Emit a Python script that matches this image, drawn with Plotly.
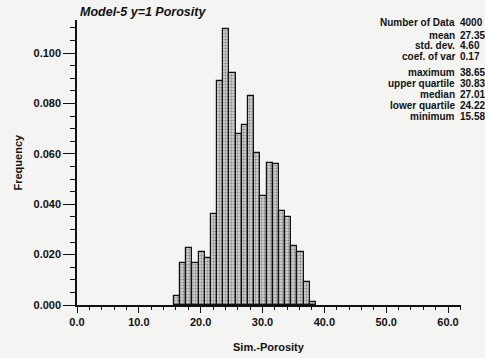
import plotly.graph_objects as go

# ---- data ----
bin_start = 15.65
bin_width = 1.0
frequency = [0.0036, 0.0165, 0.0225, 0.0165, 0.0209, 0.0188, 0.0360, 0.0890,
             0.1095, 0.0920, 0.0679, 0.0714, 0.0830, 0.0602, 0.0434, 0.0562,
             0.0558, 0.0373, 0.0348, 0.0235, 0.0209, 0.0091, 0.0013]
bin_centers = [bin_start + bin_width * (i + 0.5) for i in range(len(frequency))]

stat_labels = ["Number of Data", "mean", "std. dev.", "coef. of var",
               "maximum", "upper quartile", "median", "lower quartile", "minimum"]
stat_values = ["4000", "27.35", "4.60", "0.17",
               "38.65", "30.83", "27.01", "24.22", "15.58"]

x_tickvals = [0, 10, 20, 30, 40, 50, 60]
x_ticktext = ["0.0", "10.0", "20.0", "30.0", "40.0", "50.0", "60.0"]
y_tickvals = [0.0, 0.02, 0.04, 0.06, 0.08, 0.10]
y_ticktext = ["0.000", "0.020", "0.040", "0.060", "0.080", "0.100"]

title_text = "Model-5 y=1 Porosity"
x_title = "Sim.-Porosity"
y_title = "Frequency"

# ---- layout geometry (pixels) ----
W, H = 485, 358
L, R, T, B = 77, 24, 20, 53
PW, PH = W - L - R, H - T - B
FONT = "Liberation Sans, Arial, sans-serif"
BG = "#f4f4f2"
INK = "#111111"

fig = go.Figure()
fig.add_trace(go.Bar(
    x=bin_centers, y=frequency, width=bin_width,
    marker=dict(color="#c8c8c8",
                line=dict(color=INK, width=1.2),
                pattern=dict(shape=".", size=3, solidity=0.5,
                             fgcolor="#444444", bgcolor="#dedede")),
    showlegend=False, hoverinfo="skip"))

def px_to_paper_x(px):
    return (px - L) / PW

def px_to_paper_y(py):
    return (H - B - py) / PH

annotations = []
annotations.append(dict(text="<b><i>" + title_text + "</i></b>", xref="paper", yref="paper",
                        x=px_to_paper_x(78), y=px_to_paper_y(12), xanchor="left", yanchor="middle",
                        showarrow=False, font=dict(family=FONT, size=12.5, color=INK)))
row_y = [22, 35, 46, 57, 72, 83, 94, 105, 116]
for lab, val, yy in zip(stat_labels, stat_values, row_y):
    annotations.append(dict(text="<b>" + lab + "</b>", xref="paper", yref="paper",
                            x=px_to_paper_x(456), y=px_to_paper_y(yy), xanchor="right",
                            yanchor="middle", showarrow=False, borderpad=0,
                            font=dict(family=FONT, size=10, color=INK)))
    annotations.append(dict(text="<b>" + val + "</b>", xref="paper", yref="paper",
                            x=px_to_paper_x(459), y=px_to_paper_y(yy), xanchor="left",
                            yanchor="middle", showarrow=False, borderpad=0,
                            font=dict(family=FONT, size=10, color=INK)))
annotations.append(dict(text="<b>" + x_title + "</b>", xref="paper", yref="paper",
                        x=0.5, y=px_to_paper_y(347), xanchor="center", yanchor="middle",
                        showarrow=False, font=dict(family=FONT, size=11, color=INK)))
annotations.append(dict(text="<b>" + y_title + "</b>", xref="paper", yref="paper",
                        x=px_to_paper_x(17), y=0.5, xanchor="center", yanchor="middle",
                        textangle=-90, showarrow=False,
                        font=dict(family=FONT, size=11, color=INK)))

fig.update_layout(
    width=W, height=H, margin=dict(l=L, r=R, t=T, b=B),
    paper_bgcolor=BG, plot_bgcolor=BG,
    bargap=0, annotations=annotations,
    font=dict(family=FONT, size=11, color=INK),
    xaxis=dict(range=[0, 62.1], showgrid=False, zeroline=False,
               showline=True, linecolor=INK, linewidth=1.5,
               tickmode="array", tickvals=x_tickvals, ticktext=["<b>" + t + "</b>" for t in x_ticktext],
               ticks="outside", ticklen=6, tickwidth=1.3, tickcolor=INK,
               minor=dict(dtick=2, ticks="outside", ticklen=3, tickwidth=1.2, tickcolor=INK),
               tickfont=dict(family=FONT, size=11, color=INK)),
    yaxis=dict(range=[0, 0.1131], showgrid=False, zeroline=False,
               showline=True, linecolor=INK, linewidth=1.5,
               tickmode="array", tickvals=y_tickvals, ticktext=["<b>" + t + "</b>" for t in y_ticktext],
               ticks="outside", ticklen=12, tickwidth=1.3, tickcolor=INK,
               minor=dict(dtick=0.005, tick0=0, ticks="outside", ticklen=5, tickwidth=1.2, tickcolor=INK),
               tickfont=dict(family=FONT, size=11, color=INK)),
)

fig.write_html("out.html", config={"displayModeBar": False},
               post_script="document.body.style.margin='0';document.body.style.background='" + BG + "';")
